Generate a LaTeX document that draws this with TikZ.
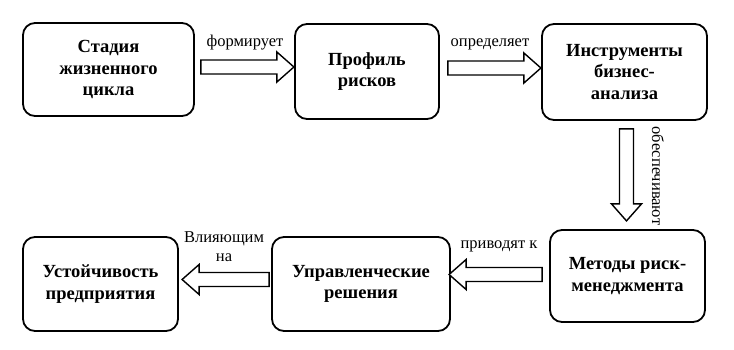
\documentclass[tikz,border=0pt]{standalone}
\usepackage{fontspec}
\setmainfont{Liberation Serif}
\usetikzlibrary{calc}
\tikzset{
  box/.style={draw, line width=1.8pt, rounded corners=12pt, align=center,
    font=\fontsize{18.5}{21.5}\selectfont\bfseries, inner sep=0pt},
  lbl/.style={font=\fontsize{16.5}{19}\selectfont, inner sep=0pt, align=center},
  barrow/.style={draw, line width=1.4pt, fill=white, line join=miter}
}
\newcommand\barrowdraw[3]{%
  \pgfmathsetmacro\hb{#2-17}%
  \draw[barrow, shift={(#1)}, rotate=#3]
    (0,-7) -- (\hb,-7) -- (\hb,-15) -- (#2,0)
    -- (\hb,15) -- (\hb,7) -- (0,7) -- cycle;}
\begin{document}
\begin{tikzpicture}[x=1pt,y=-1pt]
\useasboundingbox (0,0) rectangle (734,349);
\node[box, minimum width=171pt, minimum height=93pt] (b1) at (108.5,69.5) {Стадия\\жизненного\\цикла};
\node[box, minimum width=144pt, minimum height=95pt] (b2) at (367,71.5) {Профиль\\рисков};
\node[box, minimum width=165pt, minimum height=96pt] (b3) at (624.5,72) {Инструменты\\бизнес-\\анализа};
\node[box, minimum width=155pt, minimum height=92pt] (b4) at (627.5,276) {Методы риск-\\менеджмента};
\node[box, minimum width=178pt, minimum height=94pt] (b5) at (361,284) {Управленческие\\решения};
\node[box, minimum width=155pt, minimum height=94pt] (b6) at (100.5,284) {Устойчивость\\предприятия};

\coordinate (a1) at ($(b1.east)+(6,-2.5)$);
\coordinate (a2) at ($(b2.east)+(8,-3.5)$);
\coordinate (a3) at ($(b3.south)+(2,8)$);
\coordinate (a4) at ($(b4.west)+(-7,-1.5)$);
\coordinate (a5) at ($(b5.west)+(-2,-4.5)$);

\barrowdraw{a1}{93}{0}
\barrowdraw{a2}{93}{0}
\barrowdraw{a3}{92}{-90}
\barrowdraw{a4}{93}{180}
\barrowdraw{a5}{87}{180}

\node[lbl] (l1) at (245,43) {формирует};
\node[lbl] (l2) at (490,44) {определяет};
\node[lbl, rotate=-90] (l3) at (658,176) {обеспечивают};
\node[lbl] (l4) at (499,246) {приводят к};
\node[lbl] (l5) at (224,247) {Влияющим\\на};
\end{tikzpicture}
\end{document}
